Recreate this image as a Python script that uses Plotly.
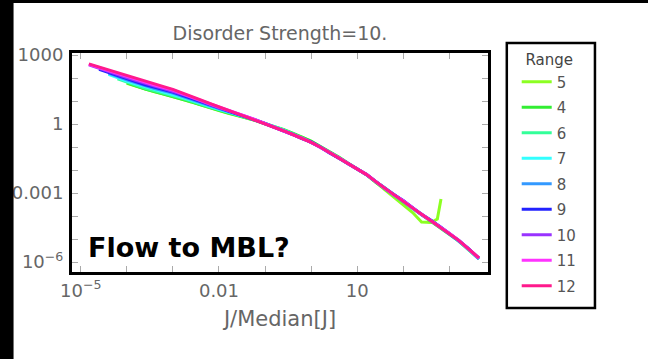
import plotly.graph_objects as go

# Shared J/Median[J] grid (log-spaced)
J = [1.5e-5, 2.5e-5, 4.0e-5, 6.3e-5, 1.0e-4, 1.6e-4, 2.5e-4, 4.0e-4, 6.3e-4,
     1.0e-3, 1.6e-3, 2.5e-3, 4.0e-3, 6.3e-3, 0.010, 0.016, 0.025, 0.040, 0.063,
     0.10, 0.16, 0.25, 0.40, 0.63, 1.0, 1.6, 2.5, 4.0, 6.3, 10, 16, 25, 40, 63,
     100, 160, 250, 400, 630, 1000, 1600, 2500, 4400]

# Probability density for each range
P5 = [None, None, None, None, 59, 43, 32, 25, 20, 15.8, 11.7, 9.1, 6.6, 5.0,
      3.8, 2.95, 2.35, 1.82, 1.41, 1.02, 0.76, 0.56, 0.37, 0.27, 0.178, 0.105,
      0.059, 0.035, 0.019, 0.0112, 6.2e-3, 3.0e-3, 1.41e-3, 6.2e-4, 3.2e-4,
      1.41e-4, 5.5e-5, 5.2e-5, None, None, None, None, None]
J5_TAIL = [550, 600, 660]
P5_TAIL = [7.4e-5, 1.8e-4, 5.5e-4]

P4 = [None, None, None, None, 62, 45, 33, 26, 20.4, 16.2, 12.0, 9.3, 6.8, 5.1,
      3.9, 3.0, 2.4, 1.86, 1.41, 1.02, 0.78, 0.58, 0.40, 0.26, 0.18, 0.105,
      0.063, 0.037, 0.020, 0.0117, 6.3e-3, 3.0e-3, 1.55e-3, 7.8e-4, 4.1e-4,
      2.1e-4, 1.2e-4, 6.0e-5, 3.2e-5, 1.7e-5, 8.1e-6, 3.7e-6, 1.35e-6]

P6 = [None, None, None, 93, 66, 49, 36, 28, 22.4, 17.8, 13.2, 10.0, 7.2, 5.5,
      4.2, 3.2, 2.6, 1.9, 1.45, 1.05, 0.76, 0.55, 0.37, 0.25, 0.16, 0.10,
      0.058, 0.035, 0.019, 0.0105, 6.2e-3, 3.2e-3, 1.66e-3, 7.9e-4, 4.2e-4,
      2.2e-4, 1.2e-4, 6.0e-5, 3.4e-5, 1.7e-5, 8.1e-6, 3.8e-6, 1.35e-6]

P7 = [None, None, 145, 102, 74, 55, 41, 32, 24.5, 19.5, 14.5, 11.0, 7.8, 5.9,
      4.4, 3.4, 2.6, 1.95, 1.45, 1.05, 0.74, 0.54, 0.36, 0.245, 0.16, 0.095,
      0.059, 0.033, 0.0186, 0.0105, 6.3e-3, 3.2e-3, 1.66e-3, 8.1e-4, 4.5e-4,
      2.1e-4, 1.2e-4, 6.6e-5, 3.3e-5, 1.7e-5, 8.7e-6, 3.9e-6, 1.38e-6]

P8 = [None, None, 162, 115, 83, 62, 46, 35, 27.5, 22, 15.8, 12.0, 8.5, 6.3,
      4.7, 3.5, 2.75, 2.0, 1.48, 1.02, 0.72, 0.54, 0.355, 0.24, 0.158, 0.10,
      0.058, 0.0316, 0.019, 0.0112, 6.2e-3, 3.2e-3, 1.66e-3, 8.3e-4, 4.4e-4,
      2.3e-4, 1.12e-4, 6.3e-5, 3.5e-5, 1.7e-5, 8.5e-6, 4.1e-6, 1.4e-6]

P9 = [None, 240, 178, 129, 93, 69, 51, 40, 31, 24.5, 17.8, 13.2, 9.1, 6.6,
      4.9, 3.6, 2.8, 2.0, 1.48, 1.05, 0.72, 0.52, 0.35, 0.234, 0.166, 0.098,
      0.055, 0.033, 0.0195, 0.0107, 6.3e-3, 3.2e-3, 1.55e-3, 8.3e-4, 4.7e-4,
      2.2e-4, 1.15e-4, 6.5e-5, 3.4e-5, 1.7e-5, 8.7e-6, 4.1e-6, 1.45e-6]

P10 = [370, 260, 195, 140, 105, 78, 58, 45, 35, 27, 19.5, 14.5, 10.0, 7.1,
       5.1, 3.8, 2.9, 2.1, 1.5, 1.05, 0.71, 0.51, 0.355, 0.24, 0.158, 0.098,
       0.059, 0.033, 0.0186, 0.011, 6.5e-3, 3.2e-3, 1.55e-3, 8.5e-4, 4.5e-4,
       2.2e-4, 1.23e-4, 6.3e-5, 3.3e-5, 1.74e-5, 8.7e-6, 4.1e-6, 1.5e-6]

P11 = [390, 280, 210, 155, 115, 85, 63, 49, 38, 30, 21, 15.5, 10.7, 7.6,
       5.4, 4.0, 2.95, 2.1, 1.51, 1.05, 0.74, 0.50, 0.35, 0.245, 0.16, 0.095,
       0.058, 0.034, 0.019, 0.0107, 6.3e-3, 3.2e-3, 1.6e-3, 8.1e-4, 4.6e-4,
       2.2e-4, 1.15e-4, 6.2e-5, 3.4e-5, 1.8e-5, 8.7e-6, 4.0e-6, 1.45e-6]

P12 = [410, 300, 220, 166, 123, 93, 69, 54, 42, 32, 23, 16.6, 11.2, 7.9,
       5.6, 4.1, 3.0, 2.1, 1.51, 1.05, 0.72, 0.51, 0.35, 0.24, 0.16, 0.098,
       0.058, 0.033, 0.019, 0.011, 6.3e-3, 3.2e-3, 1.6e-3, 8.3e-4, 4.5e-4,
       2.2e-4, 1.2e-4, 6.3e-5, 3.4e-5, 1.8e-5, 8.7e-6, 4.0e-6, 1.5e-6]

RANGES = ["5", "4", "6", "7", "8", "9", "10", "11", "12"]
SERIES = [P5, P4, P6, P7, P8, P9, P10, P11, P12]
COLORS = ["#8cff22", "#33ee33", "#33ff99", "#33ffff", "#3399ff",
          "#2222ff", "#9933ff", "#ff33ff", "#ff1a8c"]

# Labelled ticks every third decade, unlabelled ticks at every decade
X_TICKS = [1e-5, 1e-2, 10]
X_TICK_TEXT = ["10<sup>\u22125</sup>", "0.01", "10"]
X_DECADES = [1e-5, 1e-4, 1e-3, 1e-2, 1e-1, 1, 10, 100, 1000]
Y_TICKS = [1e-6, 1e-3, 1, 1000]
Y_TICK_TEXT = ["10<sup>\u22126</sup>", "0.001", "1", "1000"]
Y_DECADES = [1e-6, 1e-5, 1e-4, 1e-3, 1e-2, 1e-1, 1, 10, 100, 1000]

FONT = "DejaVu Sans"
GREY = "#666666"

fig = go.Figure()
for name, ys, color in zip(RANGES, SERIES, COLORS):
    xs, vs = [], []
    for x, v in zip(J, ys):
        if v is not None:
            xs.append(x)
            vs.append(v)
    if name == "5":
        xs += J5_TAIL
        vs += P5_TAIL
    fig.add_trace(go.Scatter(
        x=xs, y=vs, mode="lines", name=name, legendgroup=name,
        line=dict(color=color, width=3),
    ))

axis_common = dict(
    type="log", showgrid=False, zeroline=False,
    showline=True, linewidth=3, linecolor="black", mirror="ticks",
    ticks="inside", ticklen=6, tickwidth=1, tickcolor="#aaaaaa",
    tickfont=dict(family=FONT, size=18, color=GREY),
    tickmode="array",
)
minor_common = dict(ticks="inside", ticklen=6, tickwidth=1,
                    tickcolor="#aaaaaa", showgrid=False)

fig.update_xaxes(
    **axis_common, range=[-5.19, 3.84],
    tickvals=X_TICKS, ticktext=X_TICK_TEXT,
    minor=dict(**minor_common, tickvals=X_DECADES),
    ticklabelstandoff=0,
    title=dict(text="J/Median[J]", standoff=12,
               font=dict(family=FONT, size=21, color=GREY)),
)
fig.update_yaxes(
    **axis_common, range=[-6.435, 3.087],
    tickvals=Y_TICKS, ticktext=Y_TICK_TEXT,
    minor=dict(**minor_common, tickvals=Y_DECADES),
    ticklabelstandoff=2,
)

# Frame around the legend
fig.add_shape(type="rect", xref="paper", yref="paper",
              x0=1.0452, x1=1.2571, y0=-0.1644, y1=1.0457,
              line=dict(color="black", width=2.5), fillcolor="rgba(0,0,0,0)")
# Dark border strips along the left and top edges
fig.add_shape(type="rect", xref="paper", yref="paper",
              x0=-0.4, x1=-0.1405, y0=-0.6, y1=1.4,
              line=dict(width=0), fillcolor="black")
fig.add_shape(type="rect", xref="paper", yref="paper",
              x0=-0.4, x1=1.6, y0=1.2283, y1=1.4,
              line=dict(width=0), fillcolor="black")

fig.add_annotation(
    text="<b>Flow to MBL?</b>", xref="paper", yref="paper",
    x=0.033, y=0.112, xanchor="left", yanchor="middle", showarrow=False,
    font=dict(family=FONT, size=27, color="black"),
)

fig.update_layout(
    width=648, height=359,
    margin=dict(l=68, r=160, t=53, b=87),
    paper_bgcolor="white", plot_bgcolor="white",
    title=dict(text="Disorder Strength=10.", x=0.5, xref="paper",
               y=1 - 33 / 359, yref="container",
               xanchor="center", yanchor="middle",
               font=dict(family=FONT, size=19, color=GREY)),
    showlegend=True,
    legend=dict(
        x=1.069, y=1.032, xanchor="left", yanchor="top",
        bgcolor="rgba(0,0,0,0)", borderwidth=0, maxheight=400,
        font=dict(family=FONT, size=15, color="#555555"),
        title=dict(text="Range", side="top center",
                   font=dict(family=FONT, size=15, color="#444444")),
        tracegroupgap=3, itemwidth=30,
    ),
)

fig.write_html("out.html")
